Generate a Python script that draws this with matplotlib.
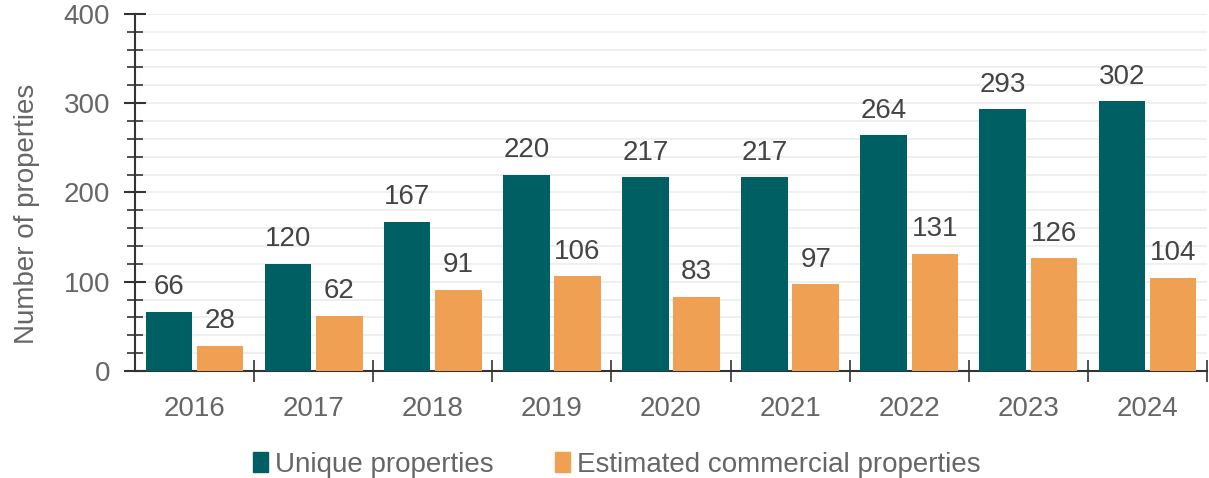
import matplotlib.pyplot as plt
import numpy as np
from matplotlib.ticker import MultipleLocator
from matplotlib.patches import Patch

years = ['2016', '2017', '2018', '2019', '2020', '2021', '2022', '2023', '2024']
unique = [66, 120, 167, 220, 217, 217, 264, 293, 302]
commercial = [28, 62, 91, 106, 83, 97, 131, 126, 104]

teal = '#005f63'
orange = '#f0a052'
txt = '#666666'

plt.rcParams['font.family'] = ['Liberation Sans', 'DejaVu Sans']
fs = 20

fig = plt.figure(figsize=(12.09, 4.78), dpi=100)
ax = fig.add_axes([0.1117, 0.224, 0.8866, 0.747])

x = np.arange(len(years))
w = 0.39
off = 0.215
b1 = ax.bar(x - off, unique, w, color=teal, zorder=3)
b2 = ax.bar(x + off, commercial, w, color=orange, zorder=3)

for rect, v in zip(b1, unique):
    ax.text(rect.get_x() + rect.get_width() / 2, v + 13, str(v), ha='center', va='bottom',
            fontsize=fs, color='#444444')
for rect, v in zip(b2, commercial):
    ax.text(rect.get_x() + rect.get_width() / 2, v + 13, str(v), ha='center', va='bottom',
            fontsize=fs, color='#444444')

ax.set_xlim(-0.5, len(years) - 0.5)
ax.set_ylim(0, 400)
ax.yaxis.set_major_locator(MultipleLocator(100))
ax.yaxis.set_minor_locator(MultipleLocator(20))
ax.grid(axis='y', which='both', color='#ececec', linewidth=1.2, zorder=0)

ax.set_xticks(x + 0.5, minor=False)
ax.set_xticklabels([])
ax.set_xticks(x, minor=True)
ax.set_xticklabels(years, minor=True)
ax.tick_params(axis='x', which='major', direction='inout', length=16, width=1.2, color='#333333')
ax.tick_params(axis='x', which='minor', length=0, pad=18, labelsize=fs, labelcolor=txt)
ax.tick_params(axis='y', which='major', direction='inout', length=16, width=1.5, color='#333333',
               labelsize=fs, labelcolor=txt, pad=10)
ax.tick_params(axis='y', which='minor', direction='inout', length=11, width=1.2, color='#333333')

for s in ['top', 'right']:
    ax.spines[s].set_visible(False)
ax.spines['left'].set_color('#333333')
ax.spines['left'].set_linewidth(1.5)
ax.spines['bottom'].set_color('#333333')
ax.spines['bottom'].set_linewidth(1.5)

ax.set_ylabel('Number of properties', fontsize=fs, color=txt)
ax.yaxis.set_label_coords(-0.089, 0.44)

handles = [Patch(color=teal, label='Unique properties'),
           Patch(color=orange, label='Estimated commercial properties')]
fig.legend(handles=handles, loc='center', bbox_to_anchor=(0.51, 0.028), ncol=2, frameon=False,
           fontsize=fs, labelcolor=txt, handlelength=0.55, handleheight=0.75, handletextpad=0.25,
           columnspacing=2.2)

fig.savefig('out.png', dpi=100)
